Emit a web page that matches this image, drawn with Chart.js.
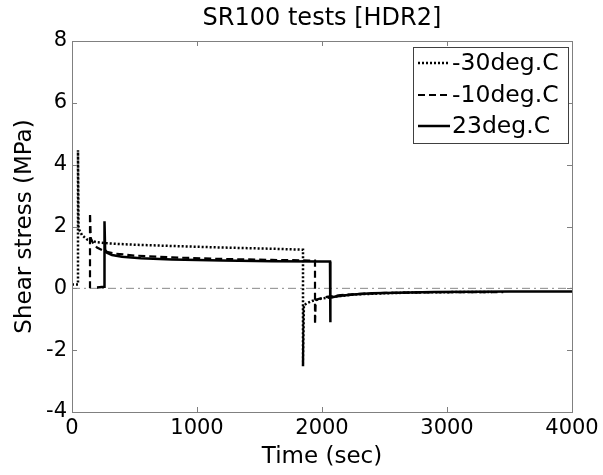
<!DOCTYPE html>
<html>
<head>
<meta charset="utf-8">
<script src="https://cdn.jsdelivr.net/npm/chart.js@4"></script>
<style>
  body { margin: 0; background: #fff; }
  #wrap { width: 603px; height: 475px; }
</style>
</head>
<body>
<div id="wrap"><canvas id="srChart" width="603" height="475"></canvas></div>
<script>
// -30deg.C test (dotted)
const timeM30 = [0, 48, 48, 52, 60, 80, 120, 200, 300, 500, 800, 1200, 1600, 1840, 1848, 1848, 1855, 1880, 1920, 2000, 2100, 2250, 2500, 2800, 3100, 3360];
const stressM30 = [0.12, 0.12, 4.47, 2.0, 1.88, 1.72, 1.58, 1.49, 1.45, 1.41, 1.37, 1.32, 1.28, 1.25, 1.25, -2.52, -0.55, -0.48, -0.41, -0.33, -0.27, -0.2, -0.16, -0.13, -0.12, -0.12];

// -10deg.C test (dashed)
const timeM10 = [144, 144, 150, 170, 200, 260, 350, 500, 800, 1200, 1600, 1900, 1944, 1944, 1950, 1970, 2000, 2050, 2150, 2300, 2500, 2800, 3100, 3450];
const stressM10 = [0.0, 2.43, 1.62, 1.45, 1.32, 1.2, 1.12, 1.06, 1.0, 0.95, 0.92, 0.9, 0.9, -1.16, -0.38, -0.35, -0.31, -0.27, -0.22, -0.18, -0.15, -0.13, -0.12, -0.12];

// 23deg.C test (solid)
const time23 = [200, 258, 260, 265, 280, 320, 400, 550, 800, 1200, 1600, 2000, 2064, 2064, 2070, 2100, 2150, 2250, 2400, 2600, 2900, 3200, 3500, 4000];
const stress23 = [0.03, 0.05, 2.17, 1.25, 1.15, 1.08, 1.02, 0.97, 0.93, 0.9, 0.88, 0.87, 0.87, -1.1, -0.3, -0.27, -0.24, -0.2, -0.16, -0.14, -0.12, -0.11, -0.1, -0.1];

// zero reference line
const zeroTime = [0, 4000];
const zeroStress = [0, 0];

const chartTitle = "SR100 tests [HDR2]";
const seriesLabels = ["-30deg.C", "-10deg.C", "23deg.C"];
const xTicks = [0, 1000, 2000, 3000, 4000];
const yTicks = [-4, -2, 0, 2, 4, 6, 8];

const pts = (ts, vs) => ts.map((t, i) => ({ x: t, y: vs[i] }));

Chart.defaults.font.family = "'DejaVu Sans', sans-serif";
Chart.defaults.color = "#000";

// title over the axes box, frame, inward ticks and legend box
const matlabFrame = {
  id: "matlabFrame",
  afterDraw(chart) {
    const ctx = chart.ctx;
    const a = chart.chartArea;
    const xs = chart.scales.x, ys = chart.scales.y;
    ctx.save();

    ctx.fillStyle = "#000";
    ctx.font = "24px 'DejaVu Sans', sans-serif";
    ctx.textAlign = "center";
    ctx.textBaseline = "middle";
    ctx.fillText(chartTitle, (a.left + a.right) / 2, 19);

    ctx.strokeStyle = "#808080";
    ctx.lineWidth = 1;
    ctx.strokeRect(a.left + 0.5, a.top + 0.5, a.right - a.left, a.bottom - a.top);
    ctx.beginPath();
    xTicks.slice(1, -1).forEach(t => {
      const px = Math.round(xs.getPixelForValue(t)) + 0.5;
      ctx.moveTo(px, a.bottom); ctx.lineTo(px, a.bottom - 5);
      ctx.moveTo(px, a.top); ctx.lineTo(px, a.top + 5);
    });
    yTicks.slice(1, -1).forEach(v => {
      const py = Math.round(ys.getPixelForValue(v)) + 0.5;
      ctx.moveTo(a.left, py); ctx.lineTo(a.left + 5, py);
      ctx.moveTo(a.right, py); ctx.lineTo(a.right - 5, py);
    });
    ctx.stroke();

    // legend
    const bw = 155, bh = 96;
    const bx = a.right - 4 - bw, by = a.top + 6;
    ctx.fillStyle = "#fff";
    ctx.fillRect(bx, by, bw, bh);
    ctx.strokeStyle = "#404040";
    ctx.strokeRect(bx + 0.5, by + 0.5, bw, bh);
    const rows = [16, 48, 79];
    seriesLabels.forEach((lab, i) => {
      const ds = chart.data.datasets[i];
      const y = by + rows[i];
      ctx.strokeStyle = "#000";
      ctx.lineWidth = ds.borderWidth;
      ctx.setLineDash(ds.borderDash || []);
      ctx.beginPath();
      ctx.moveTo(bx + 5, y);
      ctx.lineTo(bx + 37, y);
      ctx.stroke();
      ctx.setLineDash([]);
      ctx.fillStyle = "#000";
      ctx.font = "23.5px 'DejaVu Sans', sans-serif";
      ctx.textBaseline = "middle";
      ctx.textAlign = "left";
      ctx.fillText(lab, bx + 39, y + 1);
    });
    ctx.restore();
  }
};

new Chart(document.getElementById("srChart"), {
  type: "line",
  data: {
    datasets: [
      { label: seriesLabels[0], data: pts(timeM30, stressM30), borderColor: "#000", borderWidth: 2.5, borderDash: [2, 2] },
      { label: seriesLabels[1], data: pts(timeM10, stressM10), borderColor: "#000", borderWidth: 2.2, borderDash: [7, 4] },
      { label: seriesLabels[2], data: pts(time23, stress23), borderColor: "#000", borderWidth: 2.5 },
      { label: "zero", data: pts(zeroTime, zeroStress), borderColor: "#888", borderWidth: 1, borderDash: [8, 4, 2, 4] }
    ]
  },
  options: {
    responsive: false,
    animation: false,
    layout: { padding: { left: 0, right: 31, top: 41, bottom: 0 } },
    elements: { point: { radius: 0 }, line: { tension: 0 } },
    plugins: {
      legend: { display: false },
      tooltip: { enabled: false },
      title: { display: false }
    },
    scales: {
      x: {
        type: "linear",
        min: 0, max: 4000,
        afterBuildTicks: s => { s.ticks = xTicks.map(v => ({ value: v })); },
        afterFit: s => { s.height = 63; },
        grid: { display: false, drawTicks: false },
        border: { display: false },
        ticks: { font: { size: 21 }, padding: 4, maxRotation: 0, callback: v => String(v) },
        title: { display: true, text: "Time (sec)", font: { size: 23 }, padding: { top: 0, bottom: 4 } }
      },
      y: {
        type: "linear",
        min: -4, max: 8,
        afterBuildTicks: s => { s.ticks = yTicks.map(v => ({ value: v })); },
        afterFit: s => { s.width = 72; },
        grid: { display: false, drawTicks: false },
        border: { display: false },
        ticks: { font: { size: 21 }, padding: 5, callback: v => String(v) },
        title: { display: true, text: "Shear stress (MPa)", font: { size: 23 }, padding: { top: 11, bottom: 0 } }
      }
    }
  },
  plugins: [matlabFrame]
});
</script>
</body>
</html>
